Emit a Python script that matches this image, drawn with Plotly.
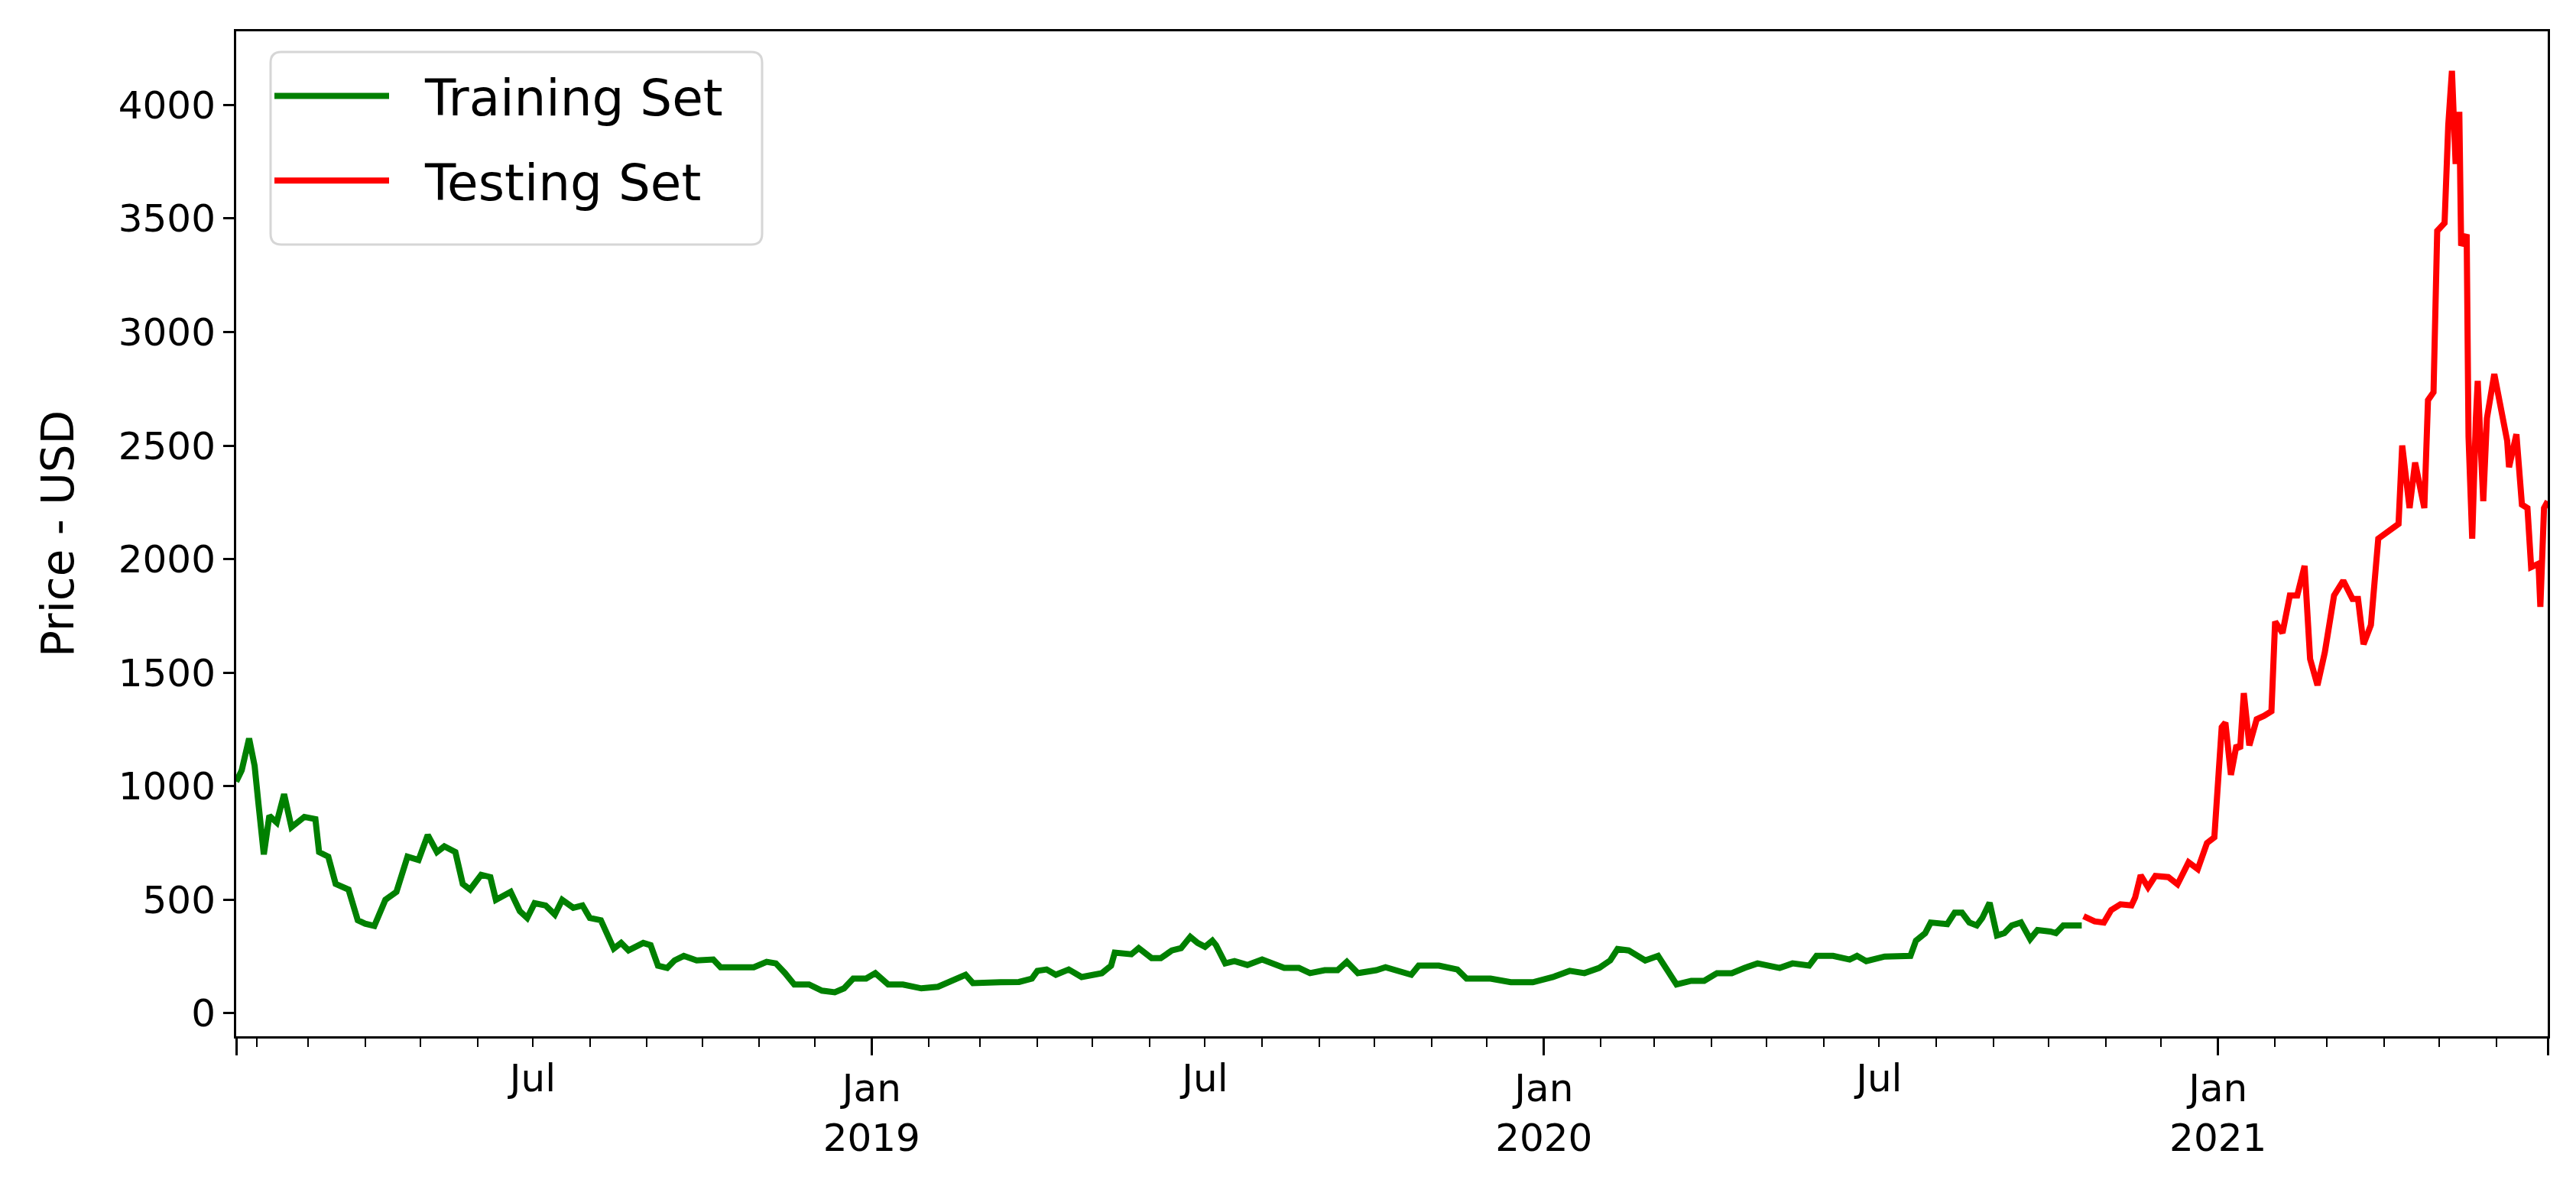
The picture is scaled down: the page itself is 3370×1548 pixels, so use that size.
import plotly.graph_objects as go

# ---- data ----
train_dates = [
    "2018-01-21", "2018-01-24", "2018-01-28", "2018-01-31", "2018-02-02", "2018-02-05",
    "2018-02-08", "2018-02-12", "2018-02-16", "2018-02-20", "2018-02-27", "2018-03-05",
    "2018-03-07", "2018-03-12", "2018-03-16", "2018-03-23", "2018-03-28", "2018-04-01",
    "2018-04-06", "2018-04-12", "2018-04-18", "2018-04-24", "2018-04-30", "2018-05-05",
    "2018-05-10", "2018-05-14", "2018-05-20", "2018-05-24", "2018-05-28", "2018-06-03",
    "2018-06-08", "2018-06-11", "2018-06-19", "2018-06-24", "2018-06-28", "2018-07-02",
    "2018-07-08", "2018-07-13", "2018-07-17", "2018-07-23", "2018-07-28", "2018-08-01",
    "2018-08-07", "2018-08-11", "2018-08-14", "2018-08-18", "2018-08-22", "2018-08-30",
    "2018-09-03", "2018-09-07", "2018-09-12", "2018-09-16", "2018-09-21", "2018-09-28",
    "2018-10-07", "2018-10-11", "2018-10-21", "2018-10-29", "2018-11-05", "2018-11-10",
    "2018-11-15", "2018-11-20", "2018-11-28", "2018-12-05", "2018-12-12", "2018-12-17",
    "2018-12-22", "2018-12-29", "2019-01-03", "2019-01-10", "2019-01-18", "2019-01-28",
    "2019-02-06", "2019-02-15", "2019-02-21", "2019-02-25", "2019-03-05", "2019-03-12",
    "2019-03-22", "2019-03-29", "2019-04-01", "2019-04-06", "2019-04-11", "2019-04-18",
    "2019-04-25", "2019-05-06", "2019-05-11", "2019-05-13", "2019-05-22", "2019-05-26",
    "2019-06-02", "2019-06-07", "2019-06-13", "2019-06-18", "2019-06-23", "2019-06-27",
    "2019-07-01", "2019-07-05", "2019-07-07", "2019-07-12", "2019-07-17", "2019-07-24",
    "2019-08-01", "2019-08-07", "2019-08-13", "2019-08-21", "2019-08-27", "2019-09-04",
    "2019-09-11", "2019-09-16", "2019-09-22", "2019-10-02", "2019-10-07", "2019-10-21",
    "2019-10-25", "2019-11-05", "2019-11-15", "2019-11-20", "2019-12-03", "2019-12-14",
    "2019-12-26", "2020-01-06", "2020-01-15", "2020-01-23", "2020-01-31", "2020-02-06",
    "2020-02-10", "2020-02-16", "2020-02-21", "2020-02-25", "2020-03-03", "2020-03-07",
    "2020-03-13", "2020-03-21", "2020-03-28", "2020-04-04", "2020-04-12", "2020-04-19",
    "2020-04-26", "2020-05-08", "2020-05-15", "2020-05-24", "2020-05-28", "2020-06-06",
    "2020-06-15", "2020-06-19", "2020-06-24", "2020-07-04", "2020-07-18", "2020-07-21",
    "2020-07-26", "2020-07-29", "2020-08-07", "2020-08-11", "2020-08-15", "2020-08-19",
    "2020-08-23", "2020-08-26", "2020-08-30", "2020-09-03", "2020-09-07", "2020-09-11",
    "2020-09-16", "2020-09-21", "2020-09-25", "2020-10-02", "2020-10-05", "2020-10-09",
    "2020-10-19",
]
train_prices = [
    1020, 1070, 1210, 1090, 930, 700,
    870, 840, 965, 820, 865, 855,
    710, 690, 570, 545, 410, 395,
    385, 500, 535, 690, 675, 785,
    710, 735, 710, 570, 545, 610,
    600, 500, 535, 450, 420, 485,
    475, 435, 500, 465, 475, 420,
    410, 330, 285, 310, 277, 310,
    300, 210, 200, 233, 253, 233,
    237, 203, 203, 203, 227, 220,
    177, 127, 127, 100, 93, 110,
    153, 153, 177, 127, 127, 110,
    117, 153, 170, 133, 137, 137,
    138, 153, 187, 193, 170, 193,
    160, 177, 210, 267, 260, 287,
    243, 243, 277, 287, 337, 310,
    293, 320, 300, 220, 230, 213,
    237, 220, 200, 200, 177, 190,
    190, 227, 177, 190, 203, 170,
    210, 210, 193, 153, 153, 137,
    137, 160, 187, 177, 200, 233,
    283, 277, 253, 233, 253, 200,
    127, 143, 143, 177, 177, 200,
    220, 200, 220, 210, 253, 253,
    237, 253, 230, 250, 253, 320,
    353, 400, 393, 443, 443, 400,
    387, 420, 487, 343, 353, 387,
    400, 327, 367, 360, 353, 387,
    387,
]

test_dates = [
    "2020-10-20", "2020-10-26", "2020-10-31", "2020-11-04", "2020-11-09", "2020-11-15",
    "2020-11-17", "2020-11-20", "2020-11-24", "2020-11-28", "2020-12-05", "2020-12-10",
    "2020-12-16", "2020-12-21", "2020-12-26", "2020-12-30", "2021-01-03", "2021-01-05",
    "2021-01-08", "2021-01-11", "2021-01-13", "2021-01-15", "2021-01-18", "2021-01-22",
    "2021-01-26", "2021-01-30", "2021-02-01", "2021-02-05", "2021-02-09", "2021-02-13",
    "2021-02-17", "2021-02-20", "2021-02-24", "2021-02-28", "2021-03-05", "2021-03-10",
    "2021-03-15", "2021-03-18", "2021-03-21", "2021-03-25", "2021-03-29", "2021-04-03",
    "2021-04-09", "2021-04-11", "2021-04-15", "2021-04-18", "2021-04-23", "2021-04-25",
    "2021-04-28", "2021-04-30", "2021-05-04", "2021-05-06", "2021-05-08", "2021-05-10",
    "2021-05-12", "2021-05-13", "2021-05-16", "2021-05-17", "2021-05-19", "2021-05-21",
    "2021-05-22", "2021-05-25", "2021-05-27", "2021-05-31", "2021-06-04", "2021-06-07",
    "2021-06-08", "2021-06-12", "2021-06-15", "2021-06-18", "2021-06-20", "2021-06-24",
    "2021-06-25", "2021-06-27", "2021-06-29",
]
test_prices = [
    428, 405, 400, 455, 480, 475,
    510, 608, 555, 605, 600, 568,
    665, 635, 750, 775, 1260, 1280,
    1050, 1180, 1165, 1410, 1180, 1295,
    1310, 1330, 1725, 1675, 1840, 1840,
    1970, 1560, 1445, 1590, 1840, 1905,
    1825, 1825, 1625, 1710, 2090, 2120,
    2155, 2500, 2225, 2425, 2225, 2700,
    2735, 3445, 3480, 3910, 4150, 3740,
    3970, 3380, 3430, 2540, 2090, 2620,
    2785, 2255, 2620, 2815, 2655, 2520,
    2405, 2550, 2240, 2225, 1965, 1980,
    1790, 2225, 2255,
]

y_ticks = [0, 500, 1000, 1500, 2000, 2500, 3000, 3500, 4000]
jan_ticks = ["2019-01-01", "2020-01-01", "2021-01-01"]
jan_labels = ["Jan<br>2019", "Jan<br>2020", "Jan<br>2021"]
jul_ticks = ["2018-07-01", "2019-07-01", "2020-07-01"]
jul_labels = ["Jul", "Jul", "Jul"]
x_start, x_end = "2018-01-21", "2021-06-29"

FONT = "DejaVu Sans"
INK = "#000000"
W, H = 3370, 1548
ML, MR, MT, MB = 301, 45, 33, 200
PW, PH = W - ML - MR, H - MT - MB


def px2paper(x, y):
    return (x - ML) / PW, 1 - (y - MT) / PH


# legend frame (pixel box of the reference legend), rounded corners
bx0, by0, bx1, by1, rad = 346, 60, 989, 312, 14
rx, ry = rad / PW, rad / PH
X0, Y0 = px2paper(bx0, by1)
X1, Y1 = px2paper(bx1, by0)
frame_path = (
    f"M {X0 + rx},{Y0} L {X1 - rx},{Y0} Q {X1},{Y0} {X1},{Y0 + ry} "
    f"L {X1},{Y1 - ry} Q {X1},{Y1} {X1 - rx},{Y1} "
    f"L {X0 + rx},{Y1} Q {X0},{Y1} {X0},{Y1 - ry} "
    f"L {X0},{Y0 + ry} Q {X0},{Y0} {X0 + rx},{Y0} Z"
)

fig = go.Figure()
fig.add_trace(go.Scatter(x=train_dates, y=train_prices, mode="lines",
                         name="\u00a0\u00a0Training Set",
                         legendgroup="a", line=dict(color="#008000", width=8)))
fig.add_trace(go.Scatter(x=test_dates, y=test_prices, mode="lines",
                         name="\u00a0\u00a0Testing Set",
                         legendgroup="b", line=dict(color="#ff0000", width=8)))
# invisible helper trace so the secondary (Jul) axis is drawn
fig.add_trace(go.Scatter(x=[x_start, x_end], y=[None, None], xaxis="x2", yaxis="y",
                         showlegend=False, hoverinfo="skip"))

lx, ly = px2paper(346, 68)
fig.update_layout(
    width=W, height=H,
    margin=dict(l=ML, r=MR, t=MT, b=MB),
    paper_bgcolor="white", plot_bgcolor="white",
    font=dict(family=FONT, color=INK, size=50),
    showlegend=True,
    legend=dict(x=lx, y=ly, xanchor="left", yanchor="top",
                font=dict(family=FONT, size=66, color=INK),
                bgcolor="rgba(0,0,0,0)", borderwidth=0,
                itemwidth=150, tracegroupgap=22),
    shapes=[dict(type="path", xref="paper", yref="paper", path=frame_path,
                 fillcolor="rgba(255,255,255,0.8)", line=dict(color="#d6d6d6", width=3),
                 layer="above")],
    xaxis=dict(
        type="date", range=[x_start, x_end],
        tickmode="array",
        tickvals=[x_start] + jan_ticks + [x_end],
        ticktext=[""] + jan_labels + [""],
        ticks="outside", ticklen=22, tickwidth=2.5, tickcolor=INK,
        tickfont=dict(family=FONT, size=50, color=INK),
        showline=True, linecolor=INK, linewidth=3, mirror=True,
        showgrid=False, zeroline=False,
        minor=dict(tickmode="linear", tick0="2018-01-01", dtick="M1",
                   ticks="outside", ticklen=11, tickwidth=2, tickcolor=INK, showgrid=False),
    ),
    xaxis2=dict(
        type="date", range=[x_start, x_end], overlaying="x", anchor="y", side="bottom",
        tickmode="array", tickvals=jul_ticks, ticktext=jul_labels,
        ticks="outside", ticklen=11, tickwidth=2, tickcolor=INK,
        tickfont=dict(family=FONT, size=50, color=INK),
        showline=False, showgrid=False, zeroline=False,
    ),
    yaxis=dict(
        range=[-101, 4324],
        tickmode="array", tickvals=y_ticks,
        ticks="outside", ticklen=14, tickwidth=2.5, tickcolor=INK,
        tickfont=dict(family=FONT, size=50, color=INK),
        showline=True, linecolor=INK, linewidth=3, mirror=True,
        showgrid=False, zeroline=False,
        title=dict(text="Price - USD", font=dict(family=FONT, size=58, color=INK), standoff=40),
    ),
)

fig.write_html("out.html")
